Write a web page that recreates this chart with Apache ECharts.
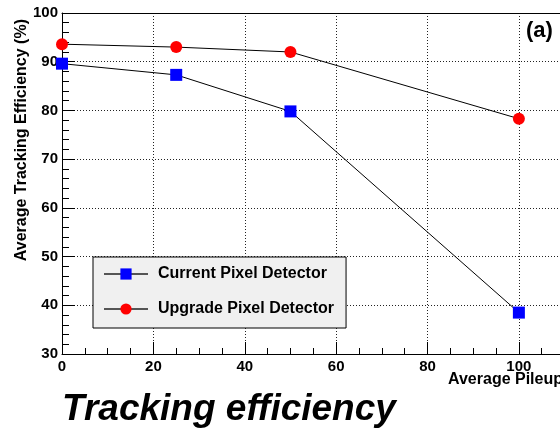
<!DOCTYPE html>
<html>
<head>
<meta charset="utf-8">
<script src="https://cdn.jsdelivr.net/npm/echarts@6/dist/echarts.min.js"></script>
<style>
html, body { margin: 0; padding: 0; background: #fff; }
#chart { width: 560px; height: 432px; }
</style>
</head>
<body>
<div id="chart"></div>
<script>
// Average pileup values (x) and tracking efficiency (%) per detector
const pileup = [0, 25, 50, 100];
const currentEff = [89.6, 87.3, 79.8, 38.5];
const upgradeEff = [93.6, 93.0, 92.0, 78.3];
const seriesNames = ['Current Pixel Detector', 'Upgrade Pixel Detector'];

const FONT = '"Liberation Sans", Arial, Helvetica, sans-serif';

const toPairs = (xs, ys) => xs.map((x, i) => [x, ys[i]]);

const chart = echarts.init(document.getElementById('chart'), null, { renderer: 'canvas' });

const dottedGrid = { show: true, lineStyle: { color: '#222', type: [1, 2], width: 1 } };

chart.setOption({
  animation: false,
  backgroundColor: '#ffffff',
  grid: { left: 62, top: 13, bottom: 78, right: 0, containLabel: false },
  xAxis: [{
    type: 'value', min: 0, max: 109, interval: 20,
    axisLine: { show: true, onZero: false, lineStyle: { color: '#000', width: 1 } },
    axisTick: { show: true, inside: true, length: 12, lineStyle: { color: '#000' } },
    minorTick: { show: true, splitNumber: 4, length: 6, lineStyle: { color: '#000' } },
    axisLabel: { margin: 5, color: '#000', fontFamily: FONT, fontWeight: 'bold', fontSize: 15, showMaxLabel: false },
    splitLine: dottedGrid
  }, {
    type: 'value', min: 0, max: 109, position: 'top',
    axisLine: { show: true, onZero: false, lineStyle: { color: '#000', width: 1 } },
    axisTick: { show: false }, axisLabel: { show: false }, splitLine: { show: false }
  }],
  yAxis: {
    type: 'value', min: 30, max: 100, interval: 10,
    axisLine: { show: true, onZero: false, lineStyle: { color: '#000', width: 1 } },
    axisTick: { show: true, inside: true, length: 13, lineStyle: { color: '#000' } },
    minorTick: { show: true, splitNumber: 5, length: 7, lineStyle: { color: '#000' } },
    axisLabel: { margin: 4, color: '#000', fontFamily: FONT, fontWeight: 'bold', fontSize: 15 },
    splitLine: dottedGrid
  },
  legend: {
    orient: 'vertical', left: 93, top: 257,
    data: seriesNames,
    backgroundColor: '#f0f0f0', borderColor: '#000', borderWidth: 1, borderRadius: 0,
    padding: [9, 12, 11, 10],
    itemWidth: 44, itemHeight: 14, itemGap: 19,
    lineStyle: { color: '#555' },
    textStyle: { color: '#000', fontFamily: FONT, fontWeight: 'bold', fontSize: 16, padding: [0, 0, 0, 5] }
  },
  series: [{
    name: seriesNames[0], type: 'line', data: toPairs(pileup, currentEff),
    symbol: 'rect', symbolSize: 12,
    itemStyle: { color: '#0000ff' },
    lineStyle: { color: '#000', width: 1 }
  }, {
    name: seriesNames[1], type: 'line', data: toPairs(pileup, upgradeEff),
    symbol: 'circle', symbolSize: 12,
    itemStyle: { color: '#ff0000' },
    lineStyle: { color: '#000', width: 1 }
  }],
  graphic: [{
    type: 'text', x: 22, y: 19, rotation: Math.PI / 2,
    style: { text: 'Average Tracking Efficiency (%)', fill: '#000', font: 'bold 16px ' + FONT, align: 'right', verticalAlign: 'middle' }
  }, {
    type: 'text', x: 563, y: 380,
    style: { text: 'Average Pileup', fill: '#000', font: 'bold 16px ' + FONT, align: 'right', verticalAlign: 'middle' }
  }, {
    type: 'text', x: 526, y: 31,
    style: { text: '(a)', fill: '#000', font: 'bold 22px ' + FONT, align: 'left', verticalAlign: 'middle' }
  }, {
    type: 'text', x: 62, y: 410,
    style: {
      text: 'Tracking efficiency', fill: '#000', font: 'italic bold 37px ' + FONT,
      align: 'left', verticalAlign: 'middle',
      shadowColor: 'rgba(0,0,0,0.45)', shadowBlur: 3, shadowOffsetX: 3, shadowOffsetY: 3
    }
  }]
});
</script>
</body>
</html>
